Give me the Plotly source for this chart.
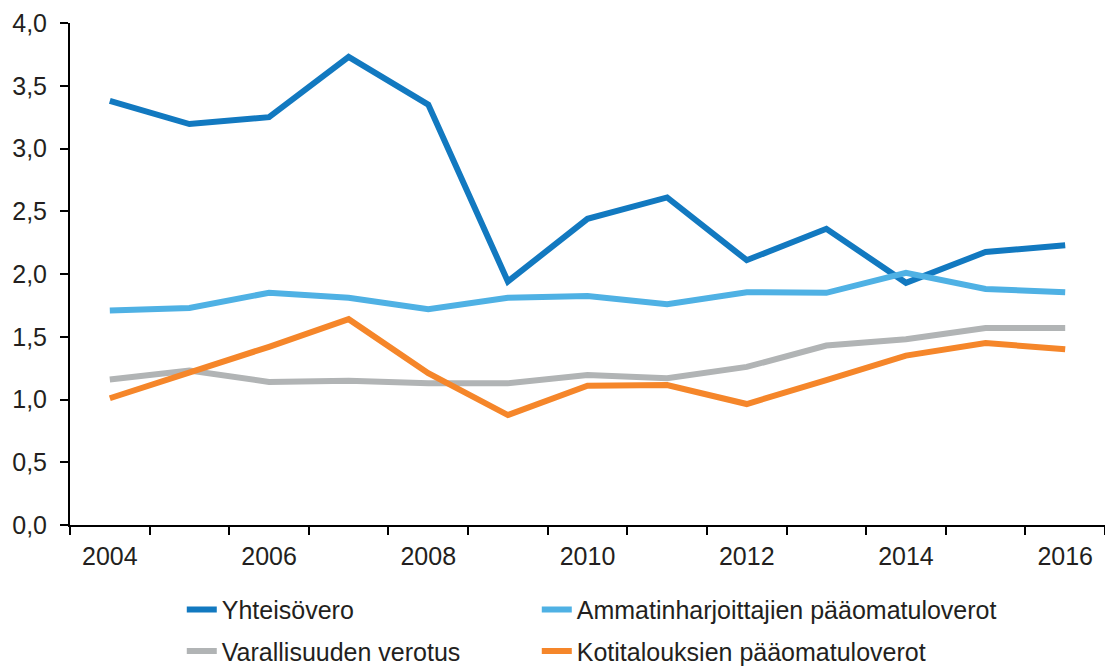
import plotly.graph_objects as go

years = list(range(2004, 2017))
yhteisovero = [3.38, 3.195, 3.25, 3.73, 3.35, 1.94, 2.44, 2.61, 2.11, 2.36, 1.93, 2.175, 2.23]
ammatinharjoittajat = [1.71, 1.73, 1.85, 1.81, 1.72, 1.81, 1.825, 1.76, 1.855, 1.85, 2.01, 1.88, 1.855]
varallisuus = [1.16, 1.23, 1.14, 1.15, 1.13, 1.13, 1.195, 1.17, 1.26, 1.43, 1.48, 1.57, 1.57]
kotitaloudet = [1.01, 1.21, 1.42, 1.64, 1.21, 0.876, 1.11, 1.115, 0.964, 1.155, 1.35, 1.45, 1.40]

names = ["Yhteisövero", "Ammatinharjoittajien pääomatuloverot",
         "Varallisuuden verotus", "Kotitalouksien pääomatuloverot"]
colors = ["#1279c0", "#4fb1e4", "#b1b4b5", "#f5862a"]
series = [yhteisovero, ammatinharjoittajat, varallisuus, kotitaloudet]
legends = ["legend", "legend2", "legend", "legend2"]

fig = go.Figure()
for i, (n, c, s, lg) in enumerate(zip(names, colors, series, legends)):
    fig.add_trace(go.Scatter(x=years, y=s, mode="lines", name=n,
                             line=dict(color=c, width=6), legend=lg,
                             legendgroup=f"g{i}"))

font_color = "#231f20"
fig.update_layout(
    width=1105, height=666,
    margin=dict(l=70, r=0, t=23, b=141),
    plot_bgcolor="white", paper_bgcolor="white",
    separators=", ",
    font=dict(family="Liberation Sans, Arial, sans-serif", size=25, color=font_color),
    xaxis=dict(range=[2003.5, 2016.5], tickvals=[2004, 2006, 2008, 2010, 2012, 2014, 2016],
               ticks="", showgrid=False, zeroline=False, automargin=False,
               showline=True, linecolor="black", linewidth=2,
               ticklabelstandoff=8,
               minor=dict(tick0=2003.5, dtick=1, ticks="outside", ticklen=8,
                          tickwidth=2, tickcolor="black", showgrid=False)),
    yaxis=dict(range=[0, 4], dtick=0.5, tickformat=".1f", ticks="outside",
               ticklen=8, tickwidth=2, tickcolor="black", showgrid=False,
               zeroline=False, showline=True, linecolor="black", linewidth=2,
               automargin=False, ticklabelstandoff=8),
    legend=dict(x=0.108, xref="paper", y=0.119, yref="container",
                xanchor="left", yanchor="top",
                orientation="v", tracegroupgap=6, bgcolor="rgba(0,0,0,0)",
                font=dict(size=25, color=font_color)),
    legend2=dict(x=0.451, xref="paper", y=0.119, yref="container",
                 xanchor="left", yanchor="top",
                 orientation="v", tracegroupgap=6, bgcolor="rgba(0,0,0,0)",
                 font=dict(size=25, color=font_color)),
)

fig.write_html("out.html", config={"displayModeBar": False},
               post_script="document.body.style.margin='0';document.body.style.padding='0';")
